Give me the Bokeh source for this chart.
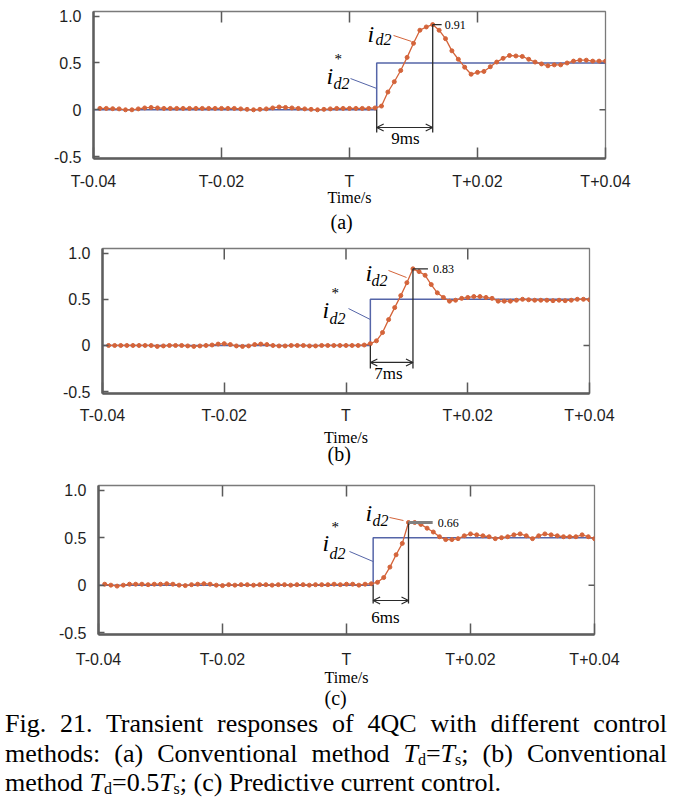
from bokeh.plotting import figure
from bokeh.models import Range1d, FixedTicker, Label, Arrow, OpenHead, Div, Title, Spacer
from bokeh.layouts import column, row
from bokeh.embed import file_html
from bokeh.resources import INLINE

# ---------------- data ----------------
time_ms = list(range(-39, 41))   # sample instants, ms relative to T (1 ms sampling)

id2_a = [0.015, 0.015, 0.012, 0.01, 0.0, 0.0, 0.01, 0.02, 0.025, 0.02,
         0.015, 0.015, 0.015, 0.015, 0.015, 0.015, 0.015, 0.015, 0.015, 0.015,
         0.015, 0.015, 0.01, 0.005, 0.0, 0.005, 0.01, 0.02, 0.03, 0.025,
         0.02, 0.015, 0.01, 0.005, 0.0, 0.005, 0.01, 0.015, 0.015, 0.015,
         0.015, 0.015, 0.015, 0.02,
         0.04, 0.19, 0.30, 0.42, 0.56, 0.71, 0.85, 0.885, 0.91, 0.85,
         0.76, 0.63, 0.54, 0.455, 0.38, 0.40, 0.41, 0.46, 0.51, 0.55,
         0.58, 0.575, 0.57, 0.54, 0.51, 0.49, 0.47, 0.48, 0.48, 0.50,
         0.52, 0.53, 0.53, 0.52, 0.52, 0.52]

id2_b = [0.0, 0.0, 0.0, 0.0, 0.0, 0.0, 0.0, 0.0, -0.01, -0.005,
         0.0, 0.0, 0.0, -0.005, -0.01, -0.005, 0.0, 0.005, 0.015, 0.02,
         0.01, -0.005, -0.01, -0.005, 0.01, 0.015, 0.01, 0.0, -0.005, -0.005,
         0.0, 0.0, 0.0, -0.005, -0.005, 0.0, 0.0, 0.0, 0.0, 0.0,
         0.0, 0.0, 0.005,
         0.02, 0.05, 0.14, 0.28, 0.41, 0.54, 0.68, 0.83, 0.80, 0.76,
         0.66, 0.57, 0.52, 0.48, 0.49, 0.51, 0.52, 0.53, 0.53, 0.52,
         0.51, 0.48, 0.48, 0.48, 0.49, 0.50, 0.495, 0.49, 0.49, 0.49,
         0.485, 0.49, 0.485, 0.49, 0.50, 0.50, 0.495]

id2_c = [0.01, 0.0, -0.01, 0.0, 0.01, 0.01, 0.01, 0.005, 0.01, 0.01,
         0.015, 0.01, 0.0, -0.005, 0.005, 0.01, 0.015, 0.01, 0.0, -0.005,
         0.005, 0.0, 0.005, 0.005, 0.0, 0.005, 0.005, 0.0, 0.005, 0.005,
         0.0, 0.005, 0.005, 0.0, 0.005, 0.005, 0.005, 0.01, 0.005, 0.01,
         0.01, 0.0, 0.01, 0.015,
         0.03, 0.08, 0.19, 0.32, 0.44, 0.66, 0.66, 0.64, 0.60, 0.56,
         0.51, 0.48, 0.48, 0.49, 0.52, 0.54, 0.53, 0.52, 0.51, 0.49,
         0.50, 0.51, 0.53, 0.54, 0.52, 0.49, 0.52, 0.54, 0.53, 0.52,
         0.51, 0.51, 0.51, 0.53, 0.51, 0.49]

step_time_ms = [4.25, 4.0, 4.3]      # instant of the reference step
ref_before = 0.0
ref_after = 0.5
rise_labels = ["9ms", "7ms", "6ms"]
panel_labels = ["(a)", "(b)", "(c)"]

x_tick_values = [-40, -20, 0, 20, 40]
x_tick_labels = ["T-0.04", "T-0.02", "T", "T+0.02", "T+0.04"]
y_tick_values = [-0.5, 0, 0.5, 1.0]
y_tick_labels = ["-0.5", "0", "0.5", "1.0"]
top_tick_values = [-20, 0, 20]
right_tick_values = [0, 0.5]

# ---------------- styles / positions ----------------
ORANGE = "#d4643a"
BLUE = "#5565a8"
DARK = "#2a2a2a"
TICK = "#5a5a5a"
SERIF = "Liberation Serif"
SANS = "Liberation Sans"
X0, X1, Y0, Y1 = -40, 40, -0.52, 1.05

panels = [
    dict(vals=id2_a, shift=8, left=85, fw=512, right=71, top=11, fh=147, bottom=82,
         lstand=14, tstand=-4, substand=0, suboff=237,
         istar=(-3.59, 0.366), star=(-2.34, 0.623), dstar=(-2.5, 0.281), bl0=(0.16, 0.334), bl_y1=0.228,
         ii=(2.81, 0.815), dd=(4.06, 0.751), ol0=(6.88, 0.794), ol1=(9.69, 0.73),
         vb=-0.242, ay=-0.189, rise=(8.75, -0.306), ptick=1.4, poff=1.9, pcol=DARK, pw=1.2),
    dict(vals=id2_b, shift=17, left=85, fw=487, right=87, top=8, fh=145, bottom=84,
         lstand=13, tstand=2, substand=-15, suboff=225,
         istar=(-3.86, 0.379), star=(-2.38, 0.65), dstar=(-2.71, 0.292), bl0=(0.41, 0.40), bl_y1=0.281,
         ii=(3.2, 0.79), dd=(4.19, 0.704), ol0=(6.98, 0.812), ol1=(9.94, 0.736),
         vb=-0.249, ay=-0.184, rise=(6.98, -0.303), ptick=2.46, poff=3.3, pcol=DARK, pw=1.2),
    dict(vals=id2_c, shift=13, left=85, fw=496, right=82, top=8, fh=149, bottom=84,
         lstand=16, tstand=-2, substand=-7, suboff=226,
         istar=(-3.87, 0.439), star=(-2.42, 0.702), dstar=(-2.74, 0.333), bl0=(0.48, 0.355), bl_y1=0.249,
         ii=(3.06, 0.765), dd=(4.19, 0.681), ol0=(6.94, 0.713), ol1=(9.19, 0.681),
         vb=-0.193, ay=-0.162, rise=(6.29, -0.341), ptick=3.9, poff=4.7, pcol="#808080", pw=3),
]


def make_panel(i, cfg):
    vals = cfg["vals"]
    step = step_time_ms[i]
    p = figure(frame_width=cfg["fw"], frame_height=cfg["fh"],
               min_border_left=cfg["left"], min_border_right=cfg["right"],
               min_border_top=cfg["top"], min_border_bottom=cfg["bottom"],
               x_range=Range1d(X0, X1), y_range=Range1d(Y0, Y1),
               output_backend="svg", toolbar_location=None, tools="")
    p.grid.visible = False
    p.outline_line_color = "#7a7a7a"
    p.outline_line_width = 1.3
    p.background_fill_color = "white"
    p.border_fill_color = "white"

    xa = p.xaxis[0]
    xa.ticker = FixedTicker(ticks=x_tick_values)
    xa.major_label_overrides = dict(zip(x_tick_values, x_tick_labels))
    ya = p.yaxis[0]
    ya.ticker = FixedTicker(ticks=y_tick_values)
    ya.major_label_overrides = dict(zip(y_tick_values, y_tick_labels))
    for ax in (xa, ya):
        ax.major_label_text_font = SANS
        ax.major_label_text_font_size = "16px"
        ax.major_label_text_color = "#1e1e1e"
        ax.major_tick_out = 0
        ax.major_tick_line_color = TICK
        ax.major_tick_line_width = 1.5
        ax.minor_tick_line_color = None
        ax.axis_line_color = "#5e5e5e"
        ax.axis_line_width = 2.5
    xa.major_label_standoff = cfg["lstand"]
    ya.major_label_standoff = 12
    xa.major_tick_in = 11
    ya.major_tick_in = 6
    xa.axis_label = "Time/s"
    xa.axis_label_text_font = SERIF
    xa.axis_label_text_font_style = "normal"
    xa.axis_label_text_font_size = "16px"
    xa.axis_label_text_color = "black"
    xa.axis_label_standoff = cfg["tstand"]

    # inward ticks on the top and right edges of the box
    tlen = 11 * (Y1 - Y0) / cfg["fh"]
    rlen = 6 * (X1 - X0) / cfg["fw"]
    p.segment(x0=top_tick_values, y0=[Y1] * 3, x1=top_tick_values, y1=[Y1 - tlen] * 3,
              line_color=TICK, line_width=1.5)
    p.segment(x0=[X1] * 2, y0=right_tick_values, x1=[X1 - rlen] * 2, y1=right_tick_values,
              line_color=TICK, line_width=1.5)

    # reference step i*_d2
    p.line([X0, step, step, X1], [ref_before, ref_before, ref_after, ref_after],
           line_color=BLUE, line_width=1.5)
    # measured i_d2
    p.line(time_ms, vals, line_color=ORANGE, line_width=1.3)
    p.scatter(time_ms, vals, size=4, marker="circle", fill_color=ORANGE, line_color=ORANGE)

    # peak / rise-time construction
    vmax = max(vals)
    tpk = time_ms[vals.index(vmax)]
    p.segment(x0=[step, tpk], y0=[ref_before, vmax], x1=[step, tpk], y1=[cfg["vb"], cfg["vb"]],
              line_color=DARK, line_width=1.3)
    p.add_layout(Arrow(start=OpenHead(size=7, line_color=DARK, line_width=1.2),
                       end=OpenHead(size=7, line_color=DARK, line_width=1.2),
                       x_start=step, y_start=cfg["ay"], x_end=tpk, y_end=cfg["ay"],
                       line_color=DARK, line_width=1.2))
    p.add_layout(Label(x=cfg["rise"][0], y=cfg["rise"][1], text=rise_labels[i], text_font=SERIF,
                       text_font_size="17px", text_align="center", text_baseline="middle",
                       text_color="black"))
    p.segment(x0=[tpk], y0=[vmax], x1=[tpk + cfg["ptick"]], y1=[vmax],
              line_color=cfg["pcol"], line_width=cfg["pw"])
    p.add_layout(Label(x=tpk + cfg["poff"], y=vmax, text=f"{vmax:.2f}", text_font=SERIF,
                       text_font_size="12px", text_align="left", text_baseline="middle",
                       text_color="black"))

    # i*_d2 label with blue leader
    p.add_layout(Label(x=cfg["istar"][0], y=cfg["istar"][1], text="i", text_font=SERIF,
                       text_font_style="italic", text_font_size="24px", text_baseline="alphabetic",
                       text_color="black"))
    p.add_layout(Label(x=cfg["star"][0], y=cfg["star"][1], text="*", text_font=SERIF,
                       text_font_size="15px", text_baseline="top", text_color="black"))
    p.add_layout(Label(x=cfg["dstar"][0], y=cfg["dstar"][1], text="d2", text_font=SERIF,
                       text_font_style="italic", text_font_size="16px", text_baseline="alphabetic",
                       text_color="black"))
    p.line([cfg["bl0"][0], step], [cfg["bl0"][1], cfg["bl_y1"]], line_color=BLUE, line_width=1)

    # i_d2 label with orange leader
    p.add_layout(Label(x=cfg["ii"][0], y=cfg["ii"][1], text="i", text_font=SERIF,
                       text_font_style="italic", text_font_size="24px", text_baseline="alphabetic",
                       text_color="black"))
    p.add_layout(Label(x=cfg["dd"][0], y=cfg["dd"][1], text="d2", text_font=SERIF,
                       text_font_style="italic", text_font_size="16px", text_baseline="alphabetic",
                       text_color="black"))
    p.line([cfg["ol0"][0], cfg["ol1"][0]], [cfg["ol0"][1], cfg["ol1"][1]], line_color=ORANGE, line_width=1)

    # sub-figure label below the axis title
    p.add_layout(Title(text=panel_labels[i], align="left", offset=cfg["suboff"],
                       standoff=cfg["substand"], text_font=SERIF, text_font_size="20px",
                       text_font_style="normal", text_color="black"), "below")
    return row(Spacer(width=cfg["shift"], height=10), p, spacing=0)


blocks = [make_panel(i, c) for i, c in enumerate(panels)]

sub_style = "font-size:16px;vertical-align:-3px;line-height:0;"
caption_html = (
    '<div style="font-family:\'Liberation Serif\',serif;font-size:26px;line-height:29.5px;'
    'color:#000;width:662px;margin-top:-14px;">'
    '<div style="text-align:justify;text-align-last:justify;">'
    'Fig. 21. Transient responses of 4QC with different control</div>'
    '<div style="text-align:justify;text-align-last:justify;">'
    'methods: (a) Conventional method <i>T</i><span style="' + sub_style + '">d</span>=<i>T</i>'
    '<span style="' + sub_style + '">s</span>; (b) Conventional</div>'
    '<div style="white-space:nowrap;">method <i>T</i><span style="' + sub_style + '">d</span>=0.5<i>T</i>'
    '<span style="' + sub_style + '">s</span>; (c) Predictive current control.</div>'
    '</div>'
)
caption = Div(text=caption_html, width=664, height=88)

layout = column(*blocks, caption, spacing=0)
open("out.html", "w").write(file_html(layout, INLINE))
